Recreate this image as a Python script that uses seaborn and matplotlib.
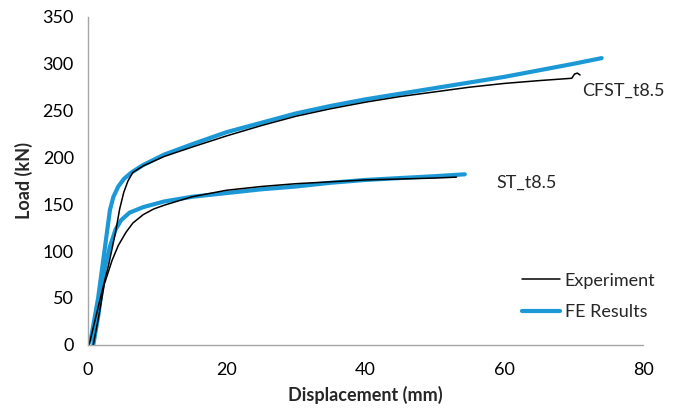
import numpy as np
import pandas as pd
import matplotlib
matplotlib.use("Agg")
import matplotlib.pyplot as plt
import seaborn as sns

# CFST_t8.5 - FE results
cfst_fe_x = [0, 0.5, 1.5, 2.5, 3.2, 3.7, 4.4, 5.2, 6.3, 8, 11, 15, 20, 25, 30, 35,
             40, 45, 50, 55, 60, 65, 70, 74]
cfst_fe_y = [0, 8, 50, 105, 144, 158, 169, 177, 184, 192, 203, 214, 227, 237, 247, 255,
             262, 268, 274, 280, 286, 293, 300, 306]

# CFST_t8.5 - experiment
cfst_exp_x = [0.2, 1.5, 3.0, 4.0, 4.6, 5.2, 5.8, 6.5, 8, 11, 15, 20, 25, 30, 35, 40,
              45, 50, 55, 60, 65, 69.7, 70.1, 70.5, 70.9]
cfst_exp_y = [0, 40, 85, 120, 145, 163, 175, 184, 191, 201, 211, 223, 234, 244, 252, 259,
              265, 270, 275, 279, 282, 284.5, 289, 290, 288]

# ST_t8.5 - FE results
st_fe_x = [0.8, 1.5, 2.4, 3.2, 4.0, 4.8, 6, 8, 11, 15, 20, 25, 30, 35, 40, 45, 50, 54.3]
st_fe_y = [0, 30, 80, 105, 123, 133, 141, 147, 153, 158, 162, 166, 169, 173, 176, 178, 180, 182]

# ST_t8.5 - experiment
st_exp_x = [0.8, 1.5, 2.4, 3.5, 4.4, 5.5, 6.5, 8, 9.5, 11, 15, 20, 25, 30, 35, 40, 45, 50, 53.1]
st_exp_y = [0, 27, 65, 90, 106, 120, 130, 139, 145, 149, 158, 165, 169, 172, 174, 176, 177, 178, 179]

x_ticks = [0, 20, 40, 60, 80]
y_ticks = [0, 50, 100, 150, 200, 250, 300, 350]

sns.set_style("white")
plt.rcParams["font.family"] = ["Lato", "DejaVu Sans"]

blue = "#1b98d5"
grey = "#a6a6a6"
fs = 13

fig = plt.figure(figsize=(6.8, 4.12), dpi=100)
ax = fig.add_axes([0.129, 0.163, 0.817, 0.796])

# experiment curves (thin black) and FE curves (thick blue)
sns.lineplot(x=cfst_fe_x, y=cfst_fe_y, ax=ax, sort=False, estimator=None,
             color=blue, lw=3.0, label="FE Results")
sns.lineplot(x=st_fe_x, y=st_fe_y, ax=ax, sort=False, estimator=None,
             color=blue, lw=3.0)
sns.lineplot(x=cfst_exp_x, y=cfst_exp_y, ax=ax, sort=False, estimator=None,
             color="black", lw=1.1, label="Experiment")
sns.lineplot(x=st_exp_x, y=st_exp_y, ax=ax, sort=False, estimator=None,
             color="black", lw=1.1)

ax.set_xlim(0, 80)
ax.set_ylim(0, 350)
ax.set_xticks(x_ticks)
ax.set_yticks(y_ticks)

sns.despine(ax=ax)
for side in ["left", "bottom"]:
    ax.spines[side].set_color(grey)
    ax.spines[side].set_linewidth(1.0)
ax.tick_params(axis="both", direction="out", length=5, width=1.0, color=grey,
               labelsize=fs, labelcolor="black", pad=5)
ax.tick_params(axis="x", pad=7)

ax.set_xlabel("Displacement (mm)", fontsize=fs, fontweight="bold", labelpad=6)
ax.set_ylabel("Load (kN)", fontsize=fs, fontweight="bold", labelpad=7)

ax.text(71.2, 271, "CFST_t8.5", fontsize=fs, va="center", ha="left")
ax.text(58.8, 173, "ST_t8.5", fontsize=fs, va="center", ha="left")

# legend: Experiment first, FE Results second
handles, labels = ax.get_legend_handles_labels()
order = [labels.index("Experiment"), labels.index("FE Results")]
ax.legend([handles[i] for i in order], [labels[i] for i in order],
          loc="upper left", bbox_to_anchor=(0.768, 0.338), bbox_transform=fig.transFigure,
          frameon=False, fontsize=fs, handlelength=2.1, handletextpad=0.25,
          labelspacing=0.85, borderpad=0, borderaxespad=0)

fig.savefig("out.png", dpi=100)
